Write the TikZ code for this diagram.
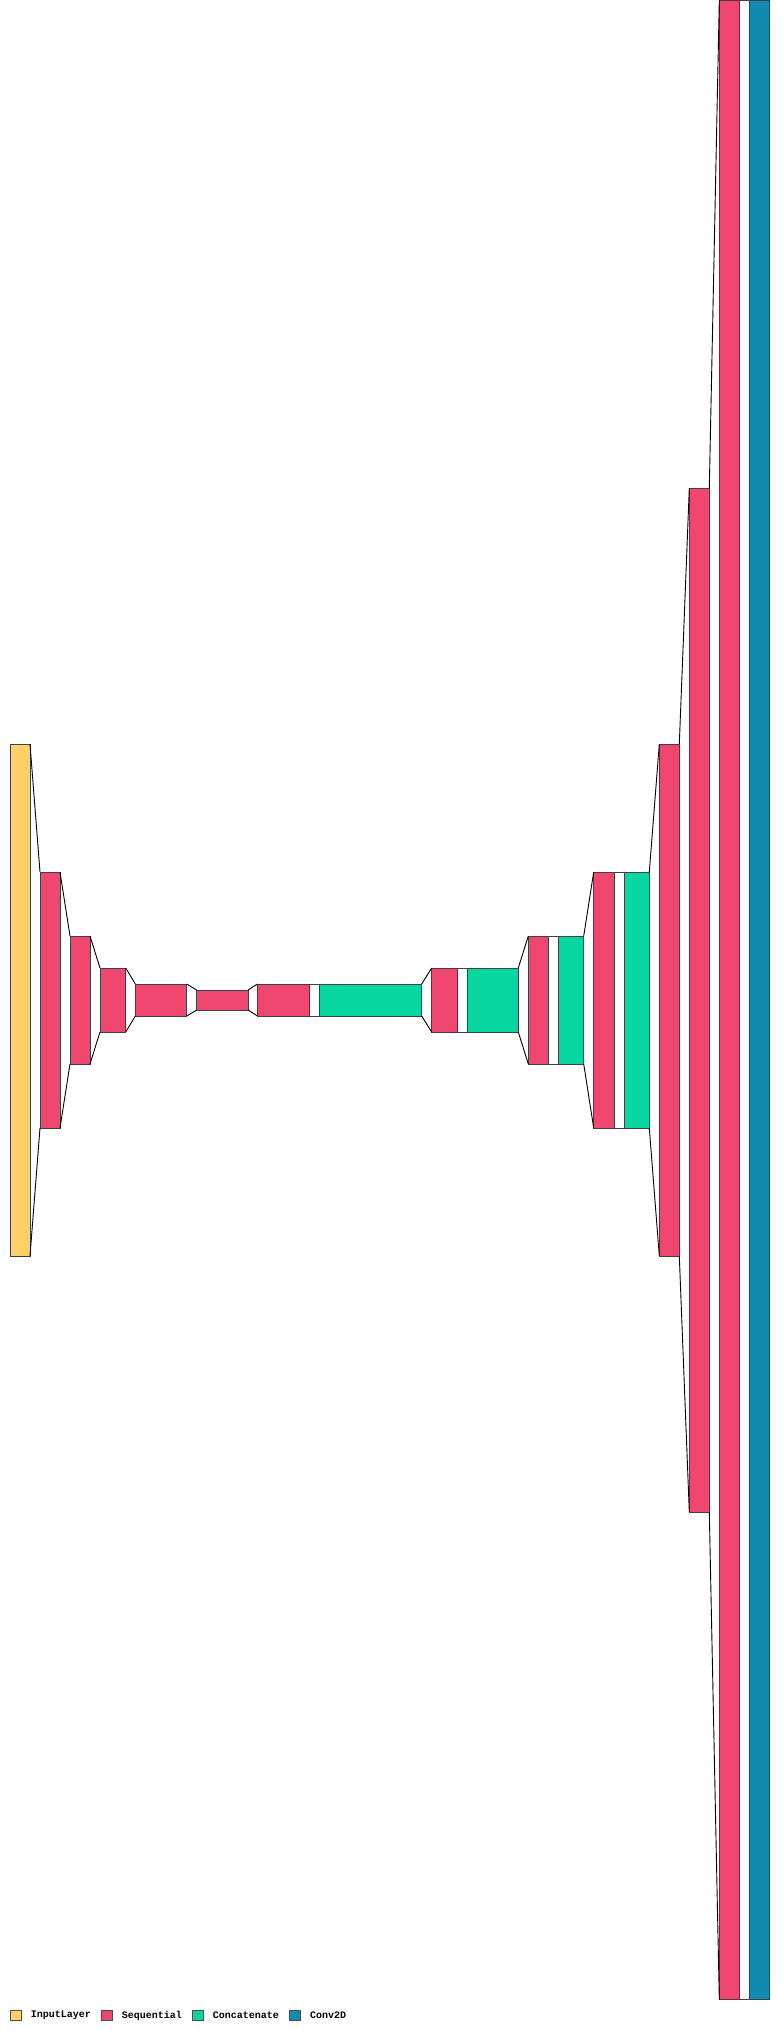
\documentclass[tikz,border=0pt]{standalone}
\usepackage{fontspec}
\newfontfamily\legfont{Liberation Mono}
\definecolor{cin}{HTML}{FFD166}
\definecolor{cseq}{HTML}{EF476F}
\definecolor{ccat}{HTML}{06D6A0}
\definecolor{cconv}{HTML}{118AB2}
\newcommand\mkbox[6]{\node[layerbox,fill=#2,minimum width=#5pt,minimum height=#6pt] (#1) at (#3,#4) {};}
\begin{document}
\begin{tikzpicture}[x=1pt,y=-1pt,
  layerbox/.style={draw=black!75,line width=0.8pt,inner sep=0pt,outer sep=0pt,anchor=north west},
  funnel/.style={draw=black,line width=0.9pt},
  legbox/.style={draw=black!70,line width=0.8pt,inner sep=0pt,outer sep=0pt,anchor=north west,minimum width=11.4pt,minimum height=10.4pt},
  legtext/.style={anchor=west,inner sep=0pt,font=\legfont\bfseries\fontsize{10}{10}\selectfont}]
\fill[white] (0,0) rectangle (780,2031);
\useasboundingbox (0,0) rectangle (780,2031);
% layers
\mkbox{in}{cin}{10}{744}{20}{512}
\mkbox{s1}{cseq}{40}{872}{20}{256}
\mkbox{s2}{cseq}{70}{936}{20}{128}
\mkbox{s3}{cseq}{100}{968}{25.7}{64}
\mkbox{s4}{cseq}{135.3}{984}{51.4}{32}
\mkbox{s5}{cseq}{196.7}{990}{51.3}{20}
\mkbox{s6}{cseq}{257.5}{984}{51.8}{32}
\mkbox{w1}{white}{309.3}{984}{10}{32}
\mkbox{c1}{ccat}{319.3}{984}{102.4}{32}
\mkbox{s7}{cseq}{431.7}{968}{25.3}{64}
\mkbox{w2}{white}{457}{968}{10.3}{64}
\mkbox{c2}{ccat}{467.3}{968}{51}{64}
\mkbox{s8}{cseq}{528.3}{936}{20.4}{128}
\mkbox{w3}{white}{548.7}{936}{10}{128}
\mkbox{c3}{ccat}{558.7}{936}{25}{128}
\mkbox{s9}{cseq}{593.7}{872}{20.3}{256}
\mkbox{w4}{white}{614}{872}{10}{256}
\mkbox{c4}{ccat}{624}{872}{25.3}{256}
\mkbox{s10}{cseq}{659.3}{744}{20}{512}
\mkbox{s11}{cseq}{689.3}{488}{20}{1024}
\mkbox{s12}{cseq}{719.3}{0.5}{20}{1999}
\mkbox{w5}{white}{739.3}{0.5}{10}{1999}
\mkbox{v1}{cconv}{749.3}{0.5}{20}{1999}
% funnels
\foreach \a/\b in {in/s1,s1/s2,s2/s3,s3/s4,s4/s5,s5/s6,c1/s7,c2/s8,c3/s9,c4/s10,s10/s11,s11/s12}{
  \draw[funnel] (\a.north east) -- (\b.north west);
  \draw[funnel] (\a.south east) -- (\b.south west);
}
% legend
\node[legbox,fill=cin] (lg1) at (10,2010.3) {};
\node[legtext] (lt1) at (30.7,2015.5) {InputLayer};
\node[legbox,fill=cseq] (lg2) at (101,2010.3) {};
\node[legtext] (lt2) at (121.7,2015.5) {Sequential};
\node[legbox,fill=ccat] (lg3) at (192.3,2010.3) {};
\node[legtext] (lt3) at (212.7,2015.5) {Concatenate};
\node[legbox,fill=cconv] (lg4) at (289.3,2010.3) {};
\node[legtext] (lt4) at (310,2015.5) {Conv2D};
\end{tikzpicture}
\end{document}
